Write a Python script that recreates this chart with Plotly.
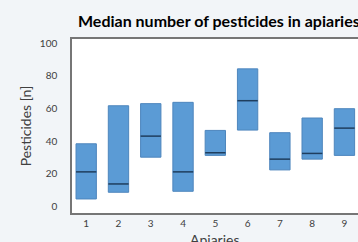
import plotly.graph_objects as go

apiaries = [1, 2, 3, 4, 5, 6, 7, 8, 9]
q1 = [4.5, 8.6, 30.1, 9.2, 31.2, 46.7, 22.3, 28.9, 31.2]
median = [21.1, 13.7, 43.0, 21.1, 32.8, 64.7, 28.9, 32.4, 47.9]
q3 = [38.3, 61.6, 62.9, 63.7, 46.5, 84.2, 45.1, 54.1, 59.8]
y_ticks = [0, 20, 40, 60, 80, 100]

box_w = 0.63

fig = go.Figure()
fig.add_trace(go.Bar(
    x=apiaries,
    base=q1,
    y=[b - a for a, b in zip(q1, q3)],
    width=box_w,
    marker=dict(color="#5B9BD5", line=dict(color="#4E86BD", width=1)),
    hoverinfo="skip",
    showlegend=False,
))

mx, my = [], []
for a, m in zip(apiaries, median):
    mx += [a - box_w / 2, a + box_w / 2, None]
    my += [m, m, None]
fig.add_trace(go.Scatter(
    x=mx, y=my, mode="lines",
    line=dict(color="#1F3E5E", width=1.5),
    hoverinfo="skip", showlegend=False,
))

fig.update_layout(
    width=358, height=242,
    margin=dict(l=72, r=0, t=39, b=29, autoexpand=False),
    paper_bgcolor="#F2F5F8",
    plot_bgcolor="#FFFFFF",
    font=dict(family="Lato, Open Sans, sans-serif", color="#404040"),
    title=dict(
        text="<b>Median number of pesticides in apiaries</b>",
        x=78 / 358, xanchor="left", xref="container",
        y=1 - 21 / 242, yanchor="middle", yref="container",
        font=dict(size=16, color="#000000", family="Lato, sans-serif"),
    ),
    bargap=0.3,
    annotations=[dict(
        text="Apiaries", xref="paper", yref="paper",
        x=0.5, y=-0.155, xanchor="center", yanchor="middle",
        showarrow=False, font=dict(size=14, color="#404040"),
    )],
)
fig.update_xaxes(
    automargin=False,
    range=[0.56, 9.42],
    tickmode="array", tickvals=apiaries, ticktext=[str(a) for a in apiaries],
    showgrid=False, zeroline=False,
    showline=True, linecolor="#767676", linewidth=1.5, mirror=True,
    ticks="", tickfont=dict(size=10, color="#404040"),
    ticklabelstandoff=0,
)
fig.update_yaxes(
    automargin=False,
    range=[-4.1, 102.5],
    tickmode="array", tickvals=y_ticks,
    showgrid=False, zeroline=False,
    showline=True, linecolor="#767676", linewidth=1.5, mirror=True,
    ticks="", tickfont=dict(size=10, color="#404040"),
    ticklabelstandoff=11,
    title=dict(text="Pesticides [n]", font=dict(size=14, color="#404040"), standoff=5),
)

fig.write_html(
    "out.html",
    config={"displayModeBar": False},
    post_script="document.body.style.margin='0';document.body.style.overflow='hidden';",
)
